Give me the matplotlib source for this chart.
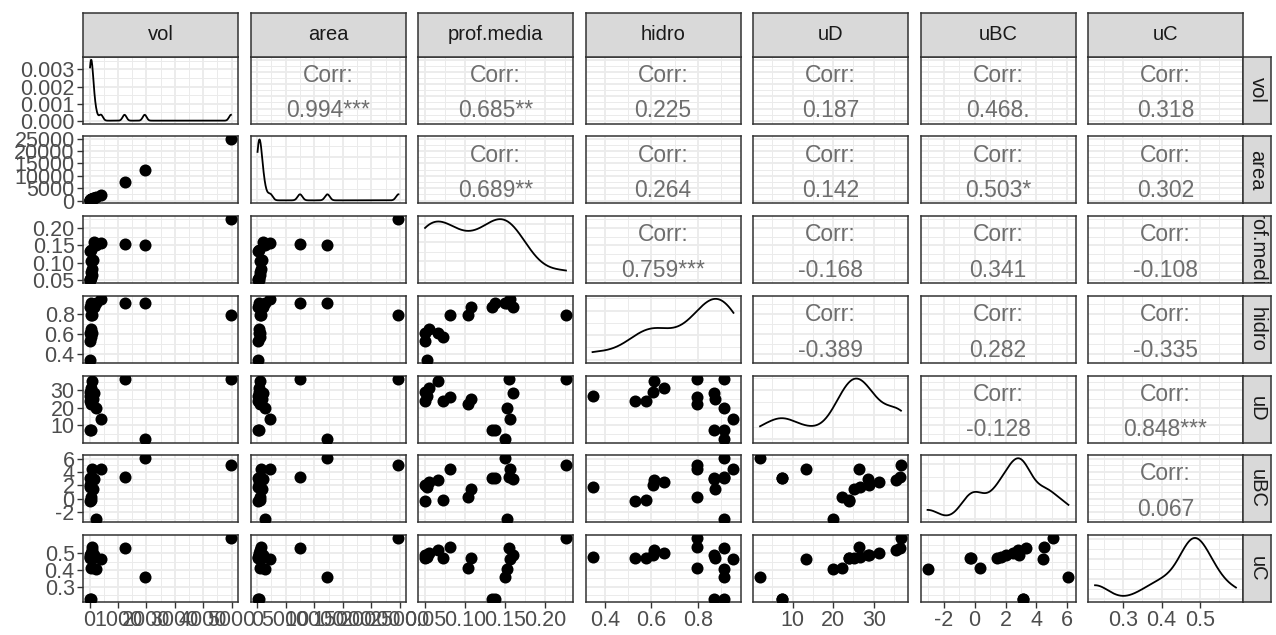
import numpy as np
import matplotlib.pyplot as plt
from matplotlib.ticker import MaxNLocator

plt.rcParams['font.family'] = ['Liberation Sans', 'DejaVu Sans']

# valores (17 observacoes)
vol = [25, 15, 55, 30, 75, 45, 4980, 90, 65, 150, 120, 1230, 220, 400, 20, 40, 1940]
area = [180, 60, 420, 240, 560, 330, 24750, 640, 470, 980, 850, 7500, 1400, 2300, 130, 290, 12300]
prof_media = [0.052, 0.050, 0.073, 0.050, 0.066, 0.055, 0.226, 0.081, 0.104, 0.160,
              0.107, 0.155, 0.152, 0.156, 0.134, 0.137, 0.150]
hidro = [0.347, 0.530, 0.577, 0.609, 0.610, 0.655, 0.796, 0.796, 0.796, 0.870,
         0.875, 0.914, 0.914, 0.953, 0.870, 0.914, 0.914]
uD = [26.6, 23.8, 23.8, 28.9, 35.5, 31.3, 36.7, 26.3, 22.3, 28.5,
      25.2, 36.5, 20.0, 13.4, 7.5, 7.5, 2.0]
uBC = [1.7, -0.3, -0.25, 2.0, 2.8, 2.5, 5.1, 4.5, 0.33, 2.9,
       1.45, 3.3, -3.05, 4.45, 3.1, 3.15, 6.07]
uC = [0.480, 0.475, 0.470, 0.490, 0.520, 0.500, 0.593, 0.541, 0.410, 0.490,
      0.470, 0.530, 0.407, 0.465, 0.227, 0.227, 0.360]

variaveis = ['vol', 'area', 'prof.media', 'hidro', 'uD', 'uBC', 'uC']
dados = [vol, area, prof_media, hidro, uD, uBC, uC]

# quebras e rotulos dos eixos
quebras = [[0, 1000, 2000, 3000, 4000, 5000],
           [0, 5000, 10000, 15000, 20000, 25000],
           [0.05, 0.10, 0.15, 0.20],
           [0.4, 0.6, 0.8],
           [10, 20, 30],
           [-2, 0, 2, 4, 6],
           [0.3, 0.4, 0.5]]
rotulos = [['0', '1000', '2000', '3000', '4000', '5000'],
           ['0', '5000', '10000', '15000', '20000', '25000'],
           ['0.05', '0.10', '0.15', '0.20'],
           ['0.4', '0.6', '0.8'],
           ['10', '20', '30'],
           ['-2', '0', '2', '4', '6'],
           ['0.3', '0.4', '0.5']]

# correlacoes do triangulo superior (linha, coluna)
corr_pos = [(0, 1), (0, 2), (0, 3), (0, 4), (0, 5), (0, 6),
            (1, 2), (1, 3), (1, 4), (1, 5), (1, 6),
            (2, 3), (2, 4), (2, 5), (2, 6),
            (3, 4), (3, 5), (3, 6),
            (4, 5), (4, 6),
            (5, 6)]
corr_txt = ['0.994***', '0.685**', '0.225', '0.187', '0.468.', '0.318',
            '0.689**', '0.264', '0.142', '0.503*', '0.302',
            '0.759***', '-0.168', '0.341', '-0.108',
            '-0.389', '0.282', '-0.335',
            '-0.128', '0.848***',
            '0.067']
corr = dict(zip(corr_pos, corr_txt))


# densidade gaussiana com banda nrd0 (como no R)
def densidade(x, n=512):
    x = np.asarray(x, float)
    q75, q25 = np.percentile(x, [75, 25])
    bw = 0.9 * min(np.std(x, ddof=1), (q75 - q25) / 1.34) * len(x) ** -0.2
    xs = np.linspace(x.min(), x.max(), n)
    ys = np.exp(-0.5 * ((xs[:, None] - x[None, :]) / bw) ** 2).sum(1)
    ys = ys / (len(x) * bw * np.sqrt(2 * np.pi))
    return xs, ys


def menores(b, lim):
    d = b[1] - b[0]
    m = [b[0] - d / 2] + [v + d / 2 for v in b]
    return [v for v in m if lim[0] <= v <= lim[1]]


def limites(x):
    r = max(x) - min(x)
    return (min(x) - 0.05 * r, max(x) + 0.05 * r)


W, H = 1276, 635
x0, dx, pw = 83, 167.5, 155
y0, dy, ph = 56.7, 79.7, 67
borda = '#333333'
grade = '#EBEBEB'
fs_eixo = 15.5
fs_corr = 16.5

fig = plt.figure(figsize=(W / 100, H / 100), dpi=100)
lims = [limites(v) for v in dados]

for i in range(7):
    for j in range(7):
        ax = fig.add_axes([(x0 + j * dx) / W, 1 - (y0 + i * dy + ph) / H, pw / W, ph / H])
        ax.set_xlim(lims[j])
        ax.set_xticks(quebras[j])
        ax.set_xticks(menores(quebras[j], lims[j]), minor=True)
        if i == j:
            xs, ys = densidade(dados[j])
            ax.plot(xs, ys, color='black', lw=1.3)
            ylim = (-0.05 * ys.max(), 1.05 * ys.max())
            yb = MaxNLocator(nbins=4, steps=[1, 2, 5, 10]).tick_values(*ylim)
            yb = [v for v in yb if ylim[0] <= v <= ylim[1]]
            ylab = ['%.3f' % v for v in yb]
        else:
            ylim = lims[i]
            yb = quebras[i]
            ylab = rotulos[i]
            if i > j:
                ax.scatter(dados[j], dados[i], s=75, color='black', linewidths=0, zorder=3)
            else:
                ax.text(0.5, 0.72, 'Corr:', transform=ax.transAxes, ha='center', va='center',
                        fontsize=fs_corr, color='#6E6E6E', clip_on=True)
                ax.text(0.5, 0.19, corr[(i, j)], transform=ax.transAxes, ha='center',
                        va='center', fontsize=fs_corr, color='#6E6E6E', clip_on=True)
        ax.set_ylim(ylim)
        ax.set_yticks(yb)
        ax.set_yticks(menores(list(yb), ylim), minor=True)
        ax.grid(which='major', color=grade, lw=1.3)
        ax.grid(which='minor', color=grade, lw=0.7)
        ax.set_axisbelow(True)
        for s in ax.spines.values():
            s.set_color(borda)
            s.set_linewidth(1.1)
        ax.tick_params(which='both', length=0, labelleft=False, labelbottom=False)
        if j == 0:
            ax.set_yticklabels(ylab)
            ax.tick_params(axis='y', which='major', length=4, width=1, color=borda,
                           labelleft=True, labelsize=fs_eixo, labelcolor='#4D4D4D', pad=2)
        if i == 6:
            ax.set_xticklabels(rotulos[j])
            ax.tick_params(axis='x', which='major', length=4, width=1, color=borda,
                           labelbottom=True, labelsize=fs_eixo, labelcolor='#4D4D4D', pad=2)

# faixas com os nomes das variaveis
for k in range(7):
    s = fig.add_axes([(x0 + k * dx) / W, 1 - y0 / H, pw / W, 43.4 / H])
    s.set_facecolor('#D9D9D9')
    s.set_xticks([])
    s.set_yticks([])
    for sp in s.spines.values():
        sp.set_color(borda)
        sp.set_linewidth(1.1)
    s.text(0.5, 0.5, variaveis[k], ha='center', va='center', fontsize=14.5,
           color='#1A1A1A', clip_on=True)

    r = fig.add_axes([(x0 + 6 * dx + pw) / W, 1 - (y0 + k * dy + ph) / H, 28 / W, ph / H])
    r.set_facecolor('#D9D9D9')
    r.set_xticks([])
    r.set_yticks([])
    for sp in r.spines.values():
        sp.set_color(borda)
        sp.set_linewidth(1.1)
    r.text(0.5, 0.5, variaveis[k], ha='center', va='center', rotation=-90,
           fontsize=14.5, color='#1A1A1A', clip_on=True)

fig.savefig('out.png', dpi=100)
